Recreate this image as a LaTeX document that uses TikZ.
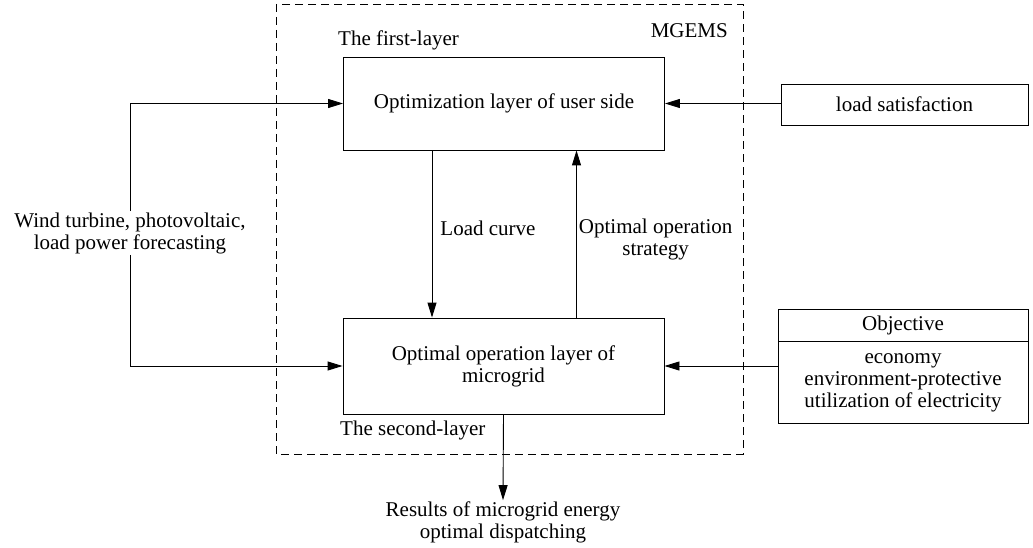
\documentclass[tikz,border=0pt]{standalone}
\usepackage{fontspec}
\setmainfont{Liberation Serif}
\usetikzlibrary{arrows.meta,positioning}

\tikzset{
    layerbox/.style={draw, line width=0.9pt, align=center, inner sep=0pt,
        minimum width=321pt},
    sidebox/.style={draw, line width=0.9pt, align=center, inner sep=0pt,
        minimum width=250pt},
    flow/.style={line width=0.9pt, -{Triangle[length=15pt,width=9pt]}},
    plain/.style={align=center, inner sep=1pt}
}

\begin{document}
\begin{tikzpicture}[x=1pt, y=-1pt, font=\fontsize{21}{22}\selectfont]
    \useasboundingbox (0,0) rectangle (1033,548);

    % energy management system frame
    \draw[line width=0.8pt, dash pattern=on 8pt off 5pt] (276,4) rectangle (743,454);
    \node[plain, anchor=east] (mgems) at (729,31) {MGEMS};

    % the two layers
    \node[layerbox, minimum height=93pt] (user) at (504,103.5) {Optimization layer of user side};
    \node[layerbox, minimum height=96pt] (grid) at (503.5,366) {Optimal operation layer of\\microgrid};
    \node[plain, anchor=west] (first) at (337,40) {The first-layer};
    \node[plain, anchor=west] (second) at (339,430) {The second-layer};

    % inputs on the right
    \node[sidebox, minimum width=247pt, minimum height=41pt] (satis) at (904.5,104.5) {load satisfaction};
    \node[sidebox, minimum height=32pt] (obj) at (903,325) {Objective};
    \node[sidebox, minimum height=82pt, below=0pt of obj] (objlist)
        {economy\\environment-protective\\utilization of electricity};

    % forecasting input on the left
    \node[plain, fill=white] (fcast) at (130,233) {Wind turbine, photovoltaic,\\load power forecasting};

    % output
    \node[plain] (result) at (503,522) {Results of microgrid energy\\optimal dispatching};

    % connectors
    \draw[flow] (fcast.north) |- (user.west);
    \draw[flow] (fcast.south) |- (grid.west);
    \draw[flow] (satis.west |- user.east) -- (user.east);
    \draw[flow] (objlist.west |- grid.east) -- (grid.east);
    \draw[flow] ([xshift=-72pt]user.south) -- ([xshift=-72pt]user.south |- grid.north)
        node[plain, midway, anchor=west, xshift=7pt, yshift=6pt] (lcurve) {Load curve};
    \draw[flow] ([xshift=73pt]grid.north) -- ([xshift=73pt]grid.north |- user.south)
        node[plain, midway, anchor=west, xshift=1pt, yshift=-5pt] (strat) {Optimal operation\\strategy};
    \draw[flow] (grid.south) -- (result.north);
\end{tikzpicture}
\end{document}
